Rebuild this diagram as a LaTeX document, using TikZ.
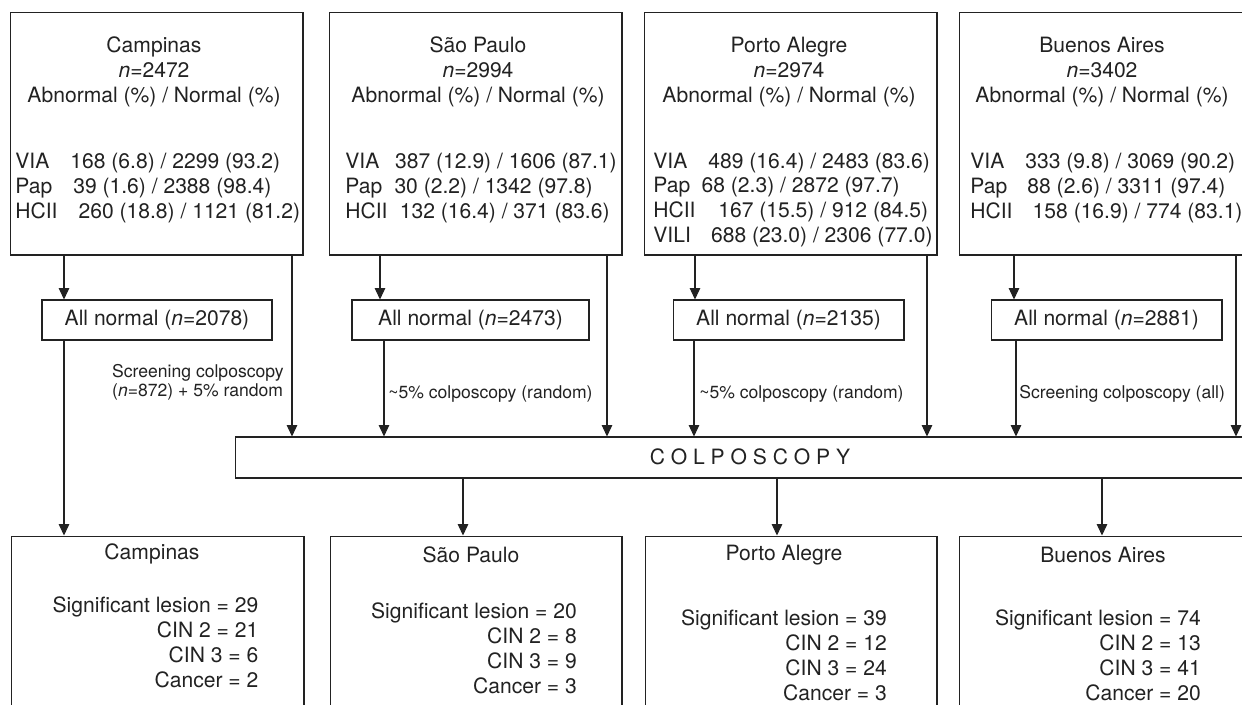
\documentclass[tikz,border=0pt]{standalone}
\usepackage{fontspec}
\setmainfont{TeX Gyre Heros}
\usetikzlibrary{arrows.meta}
\definecolor{ink}{HTML}{222222}

\begin{document}
\begin{tikzpicture}[
  x=0.02cm, y=-0.02cm,
  box/.style={draw=ink, line width=0.6pt, inner sep=0pt},
  txt/.style={text=ink, font=\fontsize{12}{14.2}\selectfont, inner sep=0pt},
  note/.style={text=ink, font=\fontsize{10}{11}\selectfont, inner sep=0pt},
  arr/.style={draw=ink, line width=0.6pt, -{Triangle[length=6.5pt,width=6pt]}},
]
  \useasboundingbox (0,0) rectangle (1242,704);
  \clip (0,0) rectangle (1242,704);

  % Baseline boxes per site
  \node[box, minimum width=5.86cm, minimum height=4.86cm] (top1) at (156.5,133.5) {};
  \node[box, minimum width=5.86cm, minimum height=4.86cm] (top2) at (475.5,133.5) {};
  \node[box, minimum width=5.86cm, minimum height=4.86cm] (top3) at (790.5,133.5) {};
  \node[box, minimum width=5.82cm, minimum height=4.86cm] (top4) at (1104.5,133.5) {};

  \node[txt, align=center] (head1) at (154,72) {Campinas\\\textit{n}=2472\\Abnormal (\%) / Normal (\%)};
  \node[txt, align=center] (head2) at (478,72) {São Paulo\\\textit{n}=2994\\Abnormal (\%) / Normal (\%)};
  \node[txt, align=center] (head3) at (789,72) {Porto Alegre\\\textit{n}=2974\\Abnormal (\%) / Normal (\%)};
  \node[txt, align=center] (head4) at (1102,72) {Buenos Aires\\\textit{n}=3402\\Abnormal (\%) / Normal (\%)};

  \node[txt, align=left, anchor=west] (rows1) at (15,188)
    {VIA\hspace{12pt}168 (6.8) / 2299 (93.2)\\Pap\hspace{12pt}39 (1.6) / 2388 (98.4)\\HCII\hspace{12pt}260 (18.8) / 1121 (81.2)};
  \node[txt, align=left, anchor=west] (rows2) at (345,188)
    {VIA\hspace{9pt}387 (12.9) / 1606 (87.1)\\Pap\hspace{7pt}30 (2.2) / 1342 (97.8)\\HCII\hspace{7pt}132 (16.4) / 371 (83.6)};
  \node[txt, align=left, anchor=west] (rows3) at (653,200)
    {VIA\hspace{12pt}489 (16.4) / 2483 (83.6)\\Pap\hspace{6.5pt}68 (2.3) / 2872 (97.7)\\HCII\hspace{13pt}167 (15.5) / 912 (84.5)\\VILI\hspace{11.5pt}688 (23.0) / 2306 (77.0)};
  \node[txt, align=left, anchor=west] (rows4) at (970,188)
    {VIA\hspace{12pt}333 (9.8) / 3069 (90.2)\\Pap\hspace{11.5pt}88 (2.6) / 3311 (97.4)\\HCII\hspace{11.5pt}158 (16.9) / 774 (83.1)};

  % All normal boxes
  \node[box, txt, minimum width=4.6cm, minimum height=0.8cm] (norm1) at (157,320) {All normal (\textit{n}=2078)};
  \node[box, txt, minimum width=4.74cm, minimum height=0.8cm] (norm2) at (470.5,320) {All normal (\textit{n}=2473)};
  \node[box, txt, minimum width=4.62cm, minimum height=0.8cm] (norm3) at (788.5,320) {All normal (\textit{n}=2135)};
  \node[box, txt, minimum width=4.62cm, minimum height=0.8cm] (norm4) at (1106.5,320) {All normal (\textit{n}=2881)};

  % Colposcopy bar
  \node[box, minimum width=20.3cm, minimum height=0.82cm] (colpo) at (742.5,457.5) {};
  \node[txt] (colpotxt) at (750,457) {C O L P O S C O P Y};

  % Outcome boxes
  \node[box, minimum width=5.86cm, minimum height=4.48cm] (bot1) at (157.5,648) {};
  \node[box, minimum width=5.84cm, minimum height=4.48cm] (bot2) at (476,648) {};
  \node[box, minimum width=5.84cm, minimum height=4.48cm] (bot3) at (791,648) {};
  \node[box, minimum width=5.82cm, minimum height=4.48cm] (bot4) at (1104.5,648) {};

  \node[txt] (name1) at (152,554) {Campinas};
  \node[txt] (name2) at (471,555) {São Paulo};
  \node[txt] (name3) at (784,555) {Porto Alegre};
  \node[txt] (name4) at (1103,555) {Buenos Aires};

  \node[txt, align=right] (res1) at (155.5,642.5) {Significant lesion = 29\\CIN 2 = 21\\CIN 3 = 6\\Cancer = 2};
  \node[txt, align=right] (res2) at (474,648.5) {Significant lesion = 20\\CIN 2 = 8\\CIN 3 = 9\\Cancer = 3};
  \node[txt, align=right] (res3) at (784,655) {Significant lesion = 39\\CIN 2 = 12\\CIN 3 = 24\\Cancer = 3};
  \node[txt, align=right] (res4) at (1098,655) {Significant lesion = 74\\CIN 2 = 13\\CIN 3 = 41\\Cancer = 20};

  % Arrow labels
  \node[note, align=left, anchor=east] (lab1) at (284,382) {Screening colposcopy\\(\textit{n}=872) + 5\% random};
  \node[note, anchor=west] (lab2) at (388,394) {\textasciitilde5\% colposcopy (random)};
  \node[note, anchor=west] (lab3) at (699,394) {\textasciitilde5\% colposcopy (random)};
  \node[note, anchor=west] (lab4) at (1019,394) {Screening colposcopy (all)};

  % Arrows
  \draw[arr] (top1.south -| 64,0) -- (norm1.north -| 64,0);
  \draw[arr] (norm1.south -| 64,0) -- (bot1.north -| 64,0);
  \draw[arr] (top1.south -| 292,0) -- (colpo.north -| 292,0);
  \draw[arr] (top2.south -| 380,0) -- (norm2.north -| 380,0);
  \draw[arr] (norm2.south -| 384,0) -- (colpo.north -| 384,0);
  \draw[arr] (top2.south -| 607,0) -- (colpo.north -| 607,0);
  \draw[arr] (top3.south -| 695,0) -- (norm3.north -| 695,0);
  \draw[arr] (norm3.south -| 694,0) -- (colpo.north -| 694,0);
  \draw[arr] (top3.south -| 927,0) -- (colpo.north -| 927,0);
  \draw[arr] (top4.south -| 1014,0) -- (norm4.north -| 1014,0);
  \draw[arr] (norm4.south -| 1016,0) -- (colpo.north -| 1016,0);
  \draw[arr] (top4.south -| 1236,0) -- (colpo.north -| 1236,0);
  \draw[arr] (colpo.south -| 463,0) -- (bot2.north -| 463,0);
  \draw[arr] (colpo.south -| 777,0) -- (bot3.north -| 777,0);
  \draw[arr] (colpo.south -| 1102,0) -- (bot4.north -| 1102,0);
\end{tikzpicture}
\end{document}
